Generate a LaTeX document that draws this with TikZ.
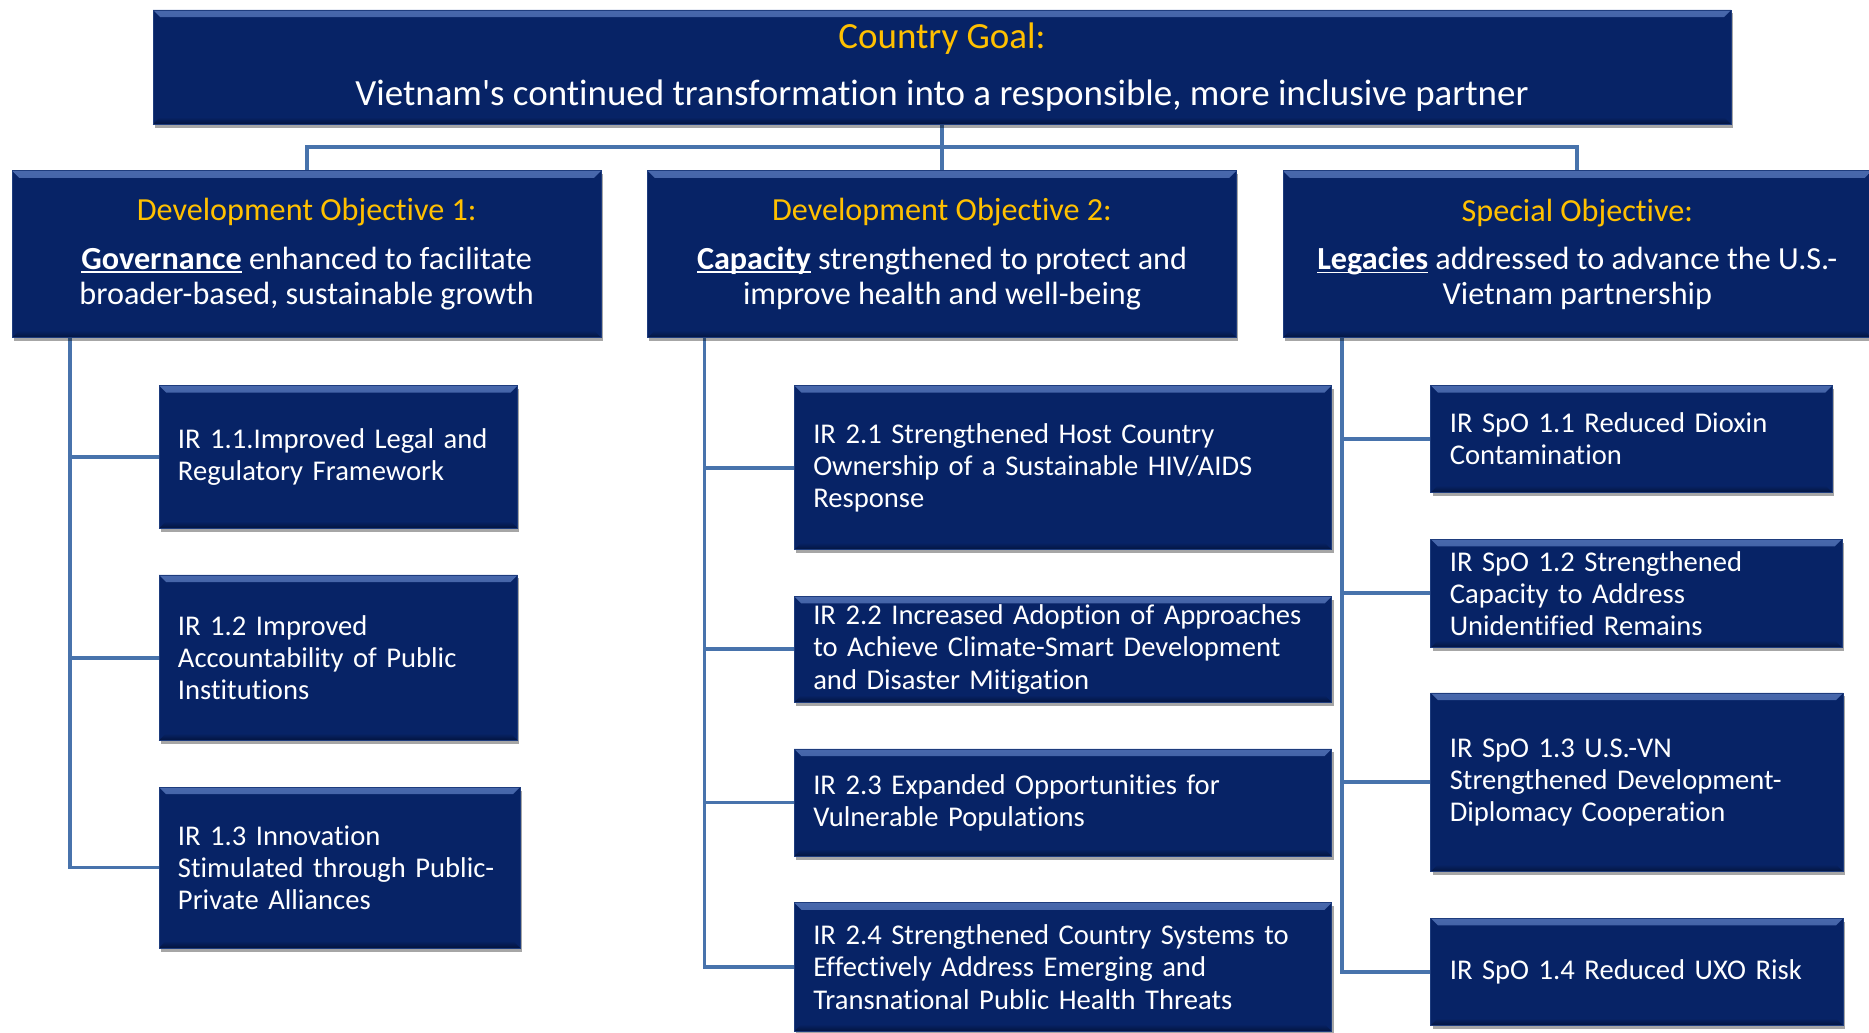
\documentclass[tikz,border=0pt]{standalone}
\usepackage{fontspec}
\setmainfont{Carlito}[Ligatures={TeX,NoCommon}]
\usetikzlibrary{shadows,backgrounds}
\definecolor{boxblue}{RGB}{7,35,102}
\definecolor{boxedge}{RGB}{30,60,125}
\definecolor{bevlight}{RGB}{72,104,172}
\definecolor{bevdark}{RGB}{3,20,62}
\definecolor{goldtxt}{RGB}{255,192,0}
\definecolor{connblue}{RGB}{72,115,172}
\newcommand{\ulw}[1]{\setbox0\hbox{\textbf{#1}}\rlap{\rule[-2.8pt]{\wd0}{1.5pt}}\box0\relax}
\tikzset{
  bx/.style={fill=boxblue, draw=boxedge, line width=0.6pt, anchor=north west,
    inner xsep=16pt, inner ysep=0pt, text=white,
    drop shadow={shadow xshift=1.5pt, shadow yshift=-3pt, opacity=0.35, fill=black},
    path picture={
      \shade[top color=bevlight, bottom color=boxblue]
        (path picture bounding box.north west) -- (path picture bounding box.north east)
        -- ([shift={(-6pt,-6pt)}]path picture bounding box.north east)
        -- ([shift={(6pt,-6pt)}]path picture bounding box.north west) -- cycle;
      \shade[top color=boxblue, bottom color=bevdark]
        (path picture bounding box.south west) -- ([shift={(6pt,6pt)}]path picture bounding box.south west)
        -- ([shift={(-6pt,6pt)}]path picture bounding box.south east)
        -- (path picture bounding box.south east) -- cycle;
    }},
  dobox/.style={bx, minimum width=494pt, minimum height=140pt, align=center,
    font=\fontsize{27}{29}\selectfont},
  irbox/.style={bx, align=left, font=\fontsize{24}{27}\selectfont},
  connector/.style={draw=connblue, line width=3.2pt},
}
\begin{document}
\begin{tikzpicture}[x=1pt,y=-1pt]
\useasboundingbox (0,0) rectangle (1568,866);
\clip (0,0) rectangle (1568,866);

% top goal
\node[bx, minimum width=1324pt, minimum height=96pt, align=center,
  font=\fontsize{31}{37}\selectfont] (goal) at (128,8)
  {\textcolor{goldtxt}{Country Goal:}\\[11pt]Vietnam\textquotesingle s continued transformation into a responsible, more inclusive partner};

% objectives
\node[dobox] (do1) at (10,143)
  {\textcolor{goldtxt}{Development Objective 1:}\\[12pt]\ulw{Governance} enhanced to facilitate\\broader-based, sustainable growth};
\node[dobox] (do2) at (543,143)
  {\textcolor{goldtxt}{Development Objective 2:}\\[12pt]\ulw{Capacity} strengthened to protect and\\improve health and well-being};
\node[dobox] (do3) at (1076,143)
  {\textcolor{goldtxt}{Special Objective:}\\[12pt]\ulw{Legacies} addressed to advance the U.S.-\\Vietnam partnership};

% column 1
\node[irbox, minimum width=301pt, minimum height=120pt, text width=269pt] (ir11) at (133,323)
  {\mbox{IR 1.1.Improved Legal and}\\Regulatory Framework};
\node[irbox, minimum width=301pt, minimum height=139pt, text width=269pt] (ir12) at (133,482)
  {IR 1.2 Improved\\\mbox{Accountability of Public}\\Institutions};
\node[irbox, minimum width=303pt, minimum height=135pt, text width=271pt] (ir13) at (133,660)
  {IR 1.3 Innovation\\\mbox{Stimulated through Public-}\\Private Alliances};

% column 2
\node[irbox, minimum width=451pt, minimum height=138pt, text width=419pt] (ir21) at (666,323)
  {IR 2.1 Strengthened Host Country\\\mbox{Ownership of a Sustainable HIV/AIDS}\\Response};
\node[irbox, minimum width=451pt, minimum height=89pt, text width=419pt] (ir22) at (666,500)
  {\mbox{IR 2.2 Increased Adoption of Approaches}\\\mbox{to Achieve Climate-Smart Development}\\and Disaster Mitigation};
\node[irbox, minimum width=451pt, minimum height=90pt, text width=419pt] (ir23) at (666,628)
  {IR 2.3 Expanded Opportunities for\\Vulnerable Populations};
\node[irbox, minimum width=451pt, minimum height=108pt, text width=419pt] (ir24) at (666,757)
  {\mbox{IR 2.4 Strengthened Country Systems to}\\Effectively Address Emerging and\\Transnational Public Health Threats};

% column 3
\node[irbox, minimum width=337pt, minimum height=90pt, text width=305pt] (sp11) at (1200,323)
  {IR SpO 1.1 Reduced Dioxin\\Contamination};
\node[irbox, minimum width=345pt, minimum height=91pt, text width=313pt] (sp12) at (1200,452)
  {IR SpO 1.2 Strengthened\\Capacity to Address\\Unidentified Remains};
\node[irbox, minimum width=346pt, minimum height=150pt, text width=314pt] (sp13) at (1200,581)
  {IR SpO 1.3 U.S.-VN\\\mbox{Strengthened Development-}\\Diplomacy Cooperation};
\node[irbox, minimum width=346pt, minimum height=90pt, text width=314pt] (sp14) at (1200,770)
  {IR SpO 1.4 Reduced UXO Risk};

% connectors
\begin{scope}[on background layer]
  \path (goal.south) ++(0,19) coordinate (hub);
  \draw[connector] (goal.south) -- (do2.north);
  \draw[connector] (do1.north) |- (hub) -| (do3.north);

  \path (do1.south west) ++(49,0) coordinate (t1);
  \path (do2.south west) ++(48,0) coordinate (t2);
  \path (do3.south west) ++(50,0) coordinate (t3);

  \draw[connector] (t1) |- (ir13.west);
  \draw[connector] (ir11.west) -- (ir11.west -| t1);
  \draw[connector] (ir12.west) -- (ir12.west -| t1);

  \draw[connector] (t2) |- (ir24.west);
  \draw[connector] (ir21.west) -- (ir21.west -| t2);
  \draw[connector] (ir22.west) -- (ir22.west -| t2);
  \draw[connector] (ir23.west) -- (ir23.west -| t2);

  \draw[connector] (t3) |- (sp14.west);
  \draw[connector] (sp11.west) -- (sp11.west -| t3);
  \draw[connector] (sp12.west) -- (sp12.west -| t3);
  \draw[connector] (sp13.west) -- (sp13.west -| t3);
\end{scope}
\end{tikzpicture}
\end{document}
